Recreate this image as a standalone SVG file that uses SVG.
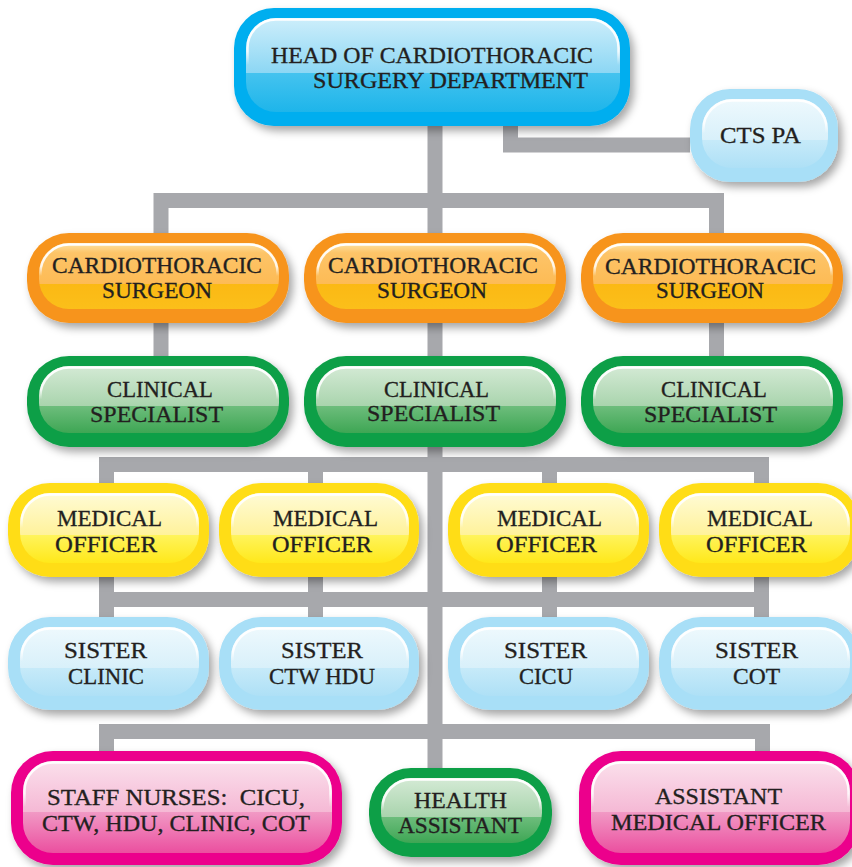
<svg xmlns="http://www.w3.org/2000/svg" width="852" height="867" viewBox="0 0 852 867">
<style>
.lbl{font-family:"Liberation Serif","Times New Roman",serif;font-size:22.5px;fill:#231f20;stroke:#231f20;stroke-width:0.3}
.hl{fill:none;stroke:url(#hl);stroke-width:2.5}
.conn{fill:none;stroke:#a7a8ac;stroke-width:15;stroke-linejoin:miter;stroke-linecap:butt}
.o-cyan{fill:#00aeef}.o-lb{fill:#a8dff7}.o-or{fill:#f7941d}.o-gr{fill:#0c9f47}.o-ye{fill:#ffdd15}.o-mg{fill:#ec008c}
.i-cyan{fill:url(#gCyan)}.i-lb{fill:url(#gLb)}.i-or{fill:url(#gOr)}.i-gr{fill:url(#gGr)}.i-ye{fill:url(#gYe)}.i-mg{fill:url(#gMg)}
</style>
<defs>
<filter id="sh" x="-10%" y="-10%" width="130%" height="145%">
<feDropShadow dx="4" dy="5" stdDeviation="4" flood-color="#000" flood-opacity="0.35"/>
</filter>
<linearGradient id="hl" x1="0" y1="0" x2="0" y2="1">
<stop offset="0" stop-color="#fff" stop-opacity="1"/>
<stop offset="0.35" stop-color="#fff" stop-opacity="0.85"/>
<stop offset="0.5" stop-color="#fff" stop-opacity="0"/>
</linearGradient>
<linearGradient id="gCyan" x1="0" y1="0" x2="0" y2="1">
<stop offset="0" stop-color="#cdeefb"/><stop offset="0.58" stop-color="#8dd7f4"/><stop offset="0.58" stop-color="#45c3ef"/><stop offset="1" stop-color="#1eb5ea"/>
</linearGradient>
<linearGradient id="gLb" x1="0" y1="0" x2="0" y2="1">
<stop offset="0" stop-color="#eef9fd"/><stop offset="0.6" stop-color="#d8f0fa"/><stop offset="0.6" stop-color="#c6eaf9"/><stop offset="1" stop-color="#aee0f6"/>
</linearGradient>
<linearGradient id="gOr" x1="0" y1="0" x2="0" y2="1">
<stop offset="0" stop-color="#fde3a3"/><stop offset="0.15" stop-color="#fdc468"/><stop offset="0.62" stop-color="#fdbb55"/><stop offset="0.62" stop-color="#fbb914"/><stop offset="1" stop-color="#fbbf1a"/>
</linearGradient>
<linearGradient id="gGr" x1="0" y1="0" x2="0" y2="1">
<stop offset="0" stop-color="#d4ead5"/><stop offset="0.6" stop-color="#a9d4ad"/><stop offset="0.6" stop-color="#6dbd7c"/><stop offset="1" stop-color="#3ea654"/>
</linearGradient>
<linearGradient id="gYe" x1="0" y1="0" x2="0" y2="1">
<stop offset="0" stop-color="#fffbd5"/><stop offset="0.6" stop-color="#fff29b"/><stop offset="0.6" stop-color="#fff45c"/><stop offset="1" stop-color="#ffe81a"/>
</linearGradient>
<linearGradient id="gMg" x1="0" y1="0" x2="0" y2="1">
<stop offset="0" stop-color="#fbe0ec"/><stop offset="0.55" stop-color="#f5b9d5"/><stop offset="0.55" stop-color="#f19ac5"/><stop offset="1" stop-color="#eb4f9f"/>
</linearGradient>
</defs>
<rect width="852" height="867" fill="#fff"/>

<g id="connectors">
<path class="conn" d="M435 126 V768"/>
<path class="conn" d="M510.5 126 V145 H690"/>
<path class="conn" d="M161 233 V200.5 H716.5 V233"/>
<path class="conn" d="M161 323 V356 M716.5 323 V356"/>
<path class="conn" d="M106.5 483 V464.5 H761.5 V483 M315.5 464.5 V483 M549.5 464.5 V483"/>
<path class="conn" d="M106.5 577 V617 M315.5 577 V617 M549.5 577 V617 M761.5 577 V617 M106.5 599.5 H761.5"/>
<path class="conn" d="M106.5 751 V731.5 H762.5 V751"/>
</g>

<g id="head">
<rect class="o-cyan" filter="url(#sh)" x="234" y="8" width="396" height="118" rx="40"/>
<rect class="i-cyan" x="246" y="18" width="374" height="94" rx="30"/>
<rect class="hl" x="247.5" y="19.5" width="371" height="91" rx="28.5"/>
<text class="lbl" x="271" y="63" textLength="322" lengthAdjust="spacingAndGlyphs">HEAD OF CARDIOTHORACIC</text>
<text class="lbl" x="313" y="88" textLength="275" lengthAdjust="spacingAndGlyphs">SURGERY DEPARTMENT</text>
</g>

<g id="cts-pa">
<rect class="o-lb" filter="url(#sh)" x="690" y="89" width="148" height="93" rx="40"/>
<rect class="i-lb" x="702" y="99" width="126" height="69" rx="30"/>
<rect class="hl" x="703.5" y="100.5" width="123" height="66" rx="28.5"/>
<text class="lbl" x="720" y="143" textLength="81" lengthAdjust="spacingAndGlyphs">CTS PA</text>
</g>

<g id="surgeon-1">
<rect class="o-or" filter="url(#sh)" x="27" y="233" width="262" height="90" rx="42"/>
<rect class="i-or" x="39" y="243" width="240" height="66" rx="30"/>
<rect class="hl" x="40.5" y="244.5" width="237" height="63" rx="28.5"/>
<text class="lbl" x="52" y="273" textLength="210" lengthAdjust="spacingAndGlyphs">CARDIOTHORACIC</text>
<text class="lbl" x="102" y="298" textLength="110" lengthAdjust="spacingAndGlyphs">SURGEON</text>
</g>
<g id="surgeon-2">
<rect class="o-or" filter="url(#sh)" x="304" y="233" width="262" height="90" rx="42"/>
<rect class="i-or" x="316" y="243" width="240" height="66" rx="30"/>
<rect class="hl" x="317.5" y="244.5" width="237" height="63" rx="28.5"/>
<text class="lbl" x="328" y="273" textLength="210" lengthAdjust="spacingAndGlyphs">CARDIOTHORACIC</text>
<text class="lbl" x="377" y="298" textLength="110" lengthAdjust="spacingAndGlyphs">SURGEON</text>
</g>
<g id="surgeon-3">
<rect class="o-or" filter="url(#sh)" x="581" y="233" width="262" height="90" rx="42"/>
<rect class="i-or" x="593" y="243" width="240" height="66" rx="30"/>
<rect class="hl" x="594.5" y="244.5" width="237" height="63" rx="28.5"/>
<text class="lbl" x="605" y="274" textLength="211" lengthAdjust="spacingAndGlyphs">CARDIOTHORACIC</text>
<text class="lbl" x="656" y="298" textLength="108" lengthAdjust="spacingAndGlyphs">SURGEON</text>
</g>

<g id="specialist-1">
<rect class="o-gr" filter="url(#sh)" x="27" y="356" width="262" height="91" rx="42"/>
<rect class="i-gr" x="39" y="366" width="240" height="67" rx="30"/>
<rect class="hl" x="40.5" y="367.5" width="237" height="64" rx="28.5"/>
<text class="lbl" x="107" y="397" textLength="106" lengthAdjust="spacingAndGlyphs">CLINICAL</text>
<text class="lbl" x="90" y="422" textLength="133" lengthAdjust="spacingAndGlyphs">SPECIALIST</text>
</g>
<g id="specialist-2">
<rect class="o-gr" filter="url(#sh)" x="304" y="356" width="262" height="91" rx="42"/>
<rect class="i-gr" x="316" y="366" width="240" height="67" rx="30"/>
<rect class="hl" x="317.5" y="367.5" width="237" height="64" rx="28.5"/>
<text class="lbl" x="384" y="397" textLength="105" lengthAdjust="spacingAndGlyphs">CLINICAL</text>
<text class="lbl" x="367" y="421" textLength="133" lengthAdjust="spacingAndGlyphs">SPECIALIST</text>
</g>
<g id="specialist-3">
<rect class="o-gr" filter="url(#sh)" x="581" y="356" width="262" height="91" rx="42"/>
<rect class="i-gr" x="593" y="366" width="240" height="67" rx="30"/>
<rect class="hl" x="594.5" y="367.5" width="237" height="64" rx="28.5"/>
<text class="lbl" x="661" y="397" textLength="106" lengthAdjust="spacingAndGlyphs">CLINICAL</text>
<text class="lbl" x="644" y="422" textLength="133" lengthAdjust="spacingAndGlyphs">SPECIALIST</text>
</g>

<g id="medical-officer-1">
<rect class="o-ye" filter="url(#sh)" x="8" y="483" width="201" height="94" rx="42"/>
<rect class="i-ye" x="20" y="493" width="179" height="70" rx="30"/>
<rect class="hl" x="21.5" y="494.5" width="176" height="67" rx="28.5"/>
<text class="lbl" x="57" y="526" textLength="105" lengthAdjust="spacingAndGlyphs">MEDICAL</text>
<text class="lbl" x="55" y="552" textLength="102" lengthAdjust="spacingAndGlyphs">OFFICER</text>
</g>
<g id="medical-officer-2">
<rect class="o-ye" filter="url(#sh)" x="219" y="483" width="200" height="94" rx="42"/>
<rect class="i-ye" x="231" y="493" width="178" height="70" rx="30"/>
<rect class="hl" x="232.5" y="494.5" width="175" height="67" rx="28.5"/>
<text class="lbl" x="273" y="526" textLength="105" lengthAdjust="spacingAndGlyphs">MEDICAL</text>
<text class="lbl" x="272" y="552" textLength="100" lengthAdjust="spacingAndGlyphs">OFFICER</text>
</g>
<g id="medical-officer-3">
<rect class="o-ye" filter="url(#sh)" x="448" y="483" width="201" height="94" rx="42"/>
<rect class="i-ye" x="460" y="493" width="179" height="70" rx="30"/>
<rect class="hl" x="461.5" y="494.5" width="176" height="67" rx="28.5"/>
<text class="lbl" x="497" y="526" textLength="105" lengthAdjust="spacingAndGlyphs">MEDICAL</text>
<text class="lbl" x="496" y="552" textLength="101" lengthAdjust="spacingAndGlyphs">OFFICER</text>
</g>
<g id="medical-officer-4">
<rect class="o-ye" filter="url(#sh)" x="659" y="483" width="201" height="94" rx="42"/>
<rect class="i-ye" x="671" y="493" width="179" height="70" rx="30"/>
<rect class="hl" x="672.5" y="494.5" width="176" height="67" rx="28.5"/>
<text class="lbl" x="707" y="526" textLength="106" lengthAdjust="spacingAndGlyphs">MEDICAL</text>
<text class="lbl" x="706" y="552" textLength="101" lengthAdjust="spacingAndGlyphs">OFFICER</text>
</g>

<g id="sister-clinic">
<rect class="o-lb" filter="url(#sh)" x="8" y="617" width="201" height="93" rx="42"/>
<rect class="i-lb" x="20" y="627" width="179" height="69" rx="30"/>
<rect class="hl" x="21.5" y="628.5" width="176" height="66" rx="28.5"/>
<text class="lbl" x="64" y="658" textLength="83" lengthAdjust="spacingAndGlyphs">SISTER</text>
<text class="lbl" x="68" y="684" textLength="76" lengthAdjust="spacingAndGlyphs">CLINIC</text>
</g>
<g id="sister-ctw-hdu">
<rect class="o-lb" filter="url(#sh)" x="219" y="617" width="200" height="93" rx="42"/>
<rect class="i-lb" x="231" y="627" width="178" height="69" rx="30"/>
<rect class="hl" x="232.5" y="628.5" width="175" height="66" rx="28.5"/>
<text class="lbl" x="281" y="658" textLength="82" lengthAdjust="spacingAndGlyphs">SISTER</text>
<text class="lbl" x="269" y="684" textLength="106" lengthAdjust="spacingAndGlyphs">CTW HDU</text>
</g>
<g id="sister-cicu">
<rect class="o-lb" filter="url(#sh)" x="448" y="617" width="201" height="93" rx="42"/>
<rect class="i-lb" x="460" y="627" width="179" height="69" rx="30"/>
<rect class="hl" x="461.5" y="628.5" width="176" height="66" rx="28.5"/>
<text class="lbl" x="504" y="658" textLength="83" lengthAdjust="spacingAndGlyphs">SISTER</text>
<text class="lbl" x="519" y="684" textLength="54" lengthAdjust="spacingAndGlyphs">CICU</text>
</g>
<g id="sister-cot">
<rect class="o-lb" filter="url(#sh)" x="659" y="617" width="201" height="93" rx="42"/>
<rect class="i-lb" x="671" y="627" width="179" height="69" rx="30"/>
<rect class="hl" x="672.5" y="628.5" width="176" height="66" rx="28.5"/>
<text class="lbl" x="715" y="658" textLength="83" lengthAdjust="spacingAndGlyphs">SISTER</text>
<text class="lbl" x="733" y="684" textLength="47" lengthAdjust="spacingAndGlyphs">COT</text>
</g>

<g id="staff-nurses">
<rect class="o-mg" filter="url(#sh)" x="11" y="751" width="331" height="114" rx="42"/>
<rect class="i-mg" x="23" y="761" width="309" height="92" rx="30"/>
<rect class="hl" x="24.5" y="762.5" width="306" height="89" rx="28.5"/>
<text class="lbl" x="47" y="805" textLength="258" lengthAdjust="spacingAndGlyphs" xml:space="preserve">STAFF NURSES:  CICU,</text>
<text class="lbl" x="42" y="831" textLength="268" lengthAdjust="spacingAndGlyphs">CTW, HDU, CLINIC, COT</text>
</g>
<g id="health-assistant">
<rect class="o-gr" filter="url(#sh)" x="369" y="768" width="183" height="89" rx="42"/>
<rect class="i-gr" x="381" y="778" width="161" height="65" rx="30"/>
<rect class="hl" x="382.5" y="779.5" width="158" height="62" rx="28.5"/>
<text class="lbl" x="414" y="808" textLength="93" lengthAdjust="spacingAndGlyphs">HEALTH</text>
<text class="lbl" x="398" y="833" textLength="124" lengthAdjust="spacingAndGlyphs">ASSISTANT</text>
</g>
<g id="assistant-medical-officer">
<rect class="o-mg" filter="url(#sh)" x="579" y="751" width="281" height="114" rx="42"/>
<rect class="i-mg" x="591" y="761" width="259" height="92" rx="30"/>
<rect class="hl" x="592.5" y="762.5" width="256" height="89" rx="28.5"/>
<text class="lbl" x="655" y="804" textLength="127" lengthAdjust="spacingAndGlyphs">ASSISTANT</text>
<text class="lbl" x="611" y="830" textLength="215" lengthAdjust="spacingAndGlyphs">MEDICAL OFFICER</text>
</g>
</svg>
